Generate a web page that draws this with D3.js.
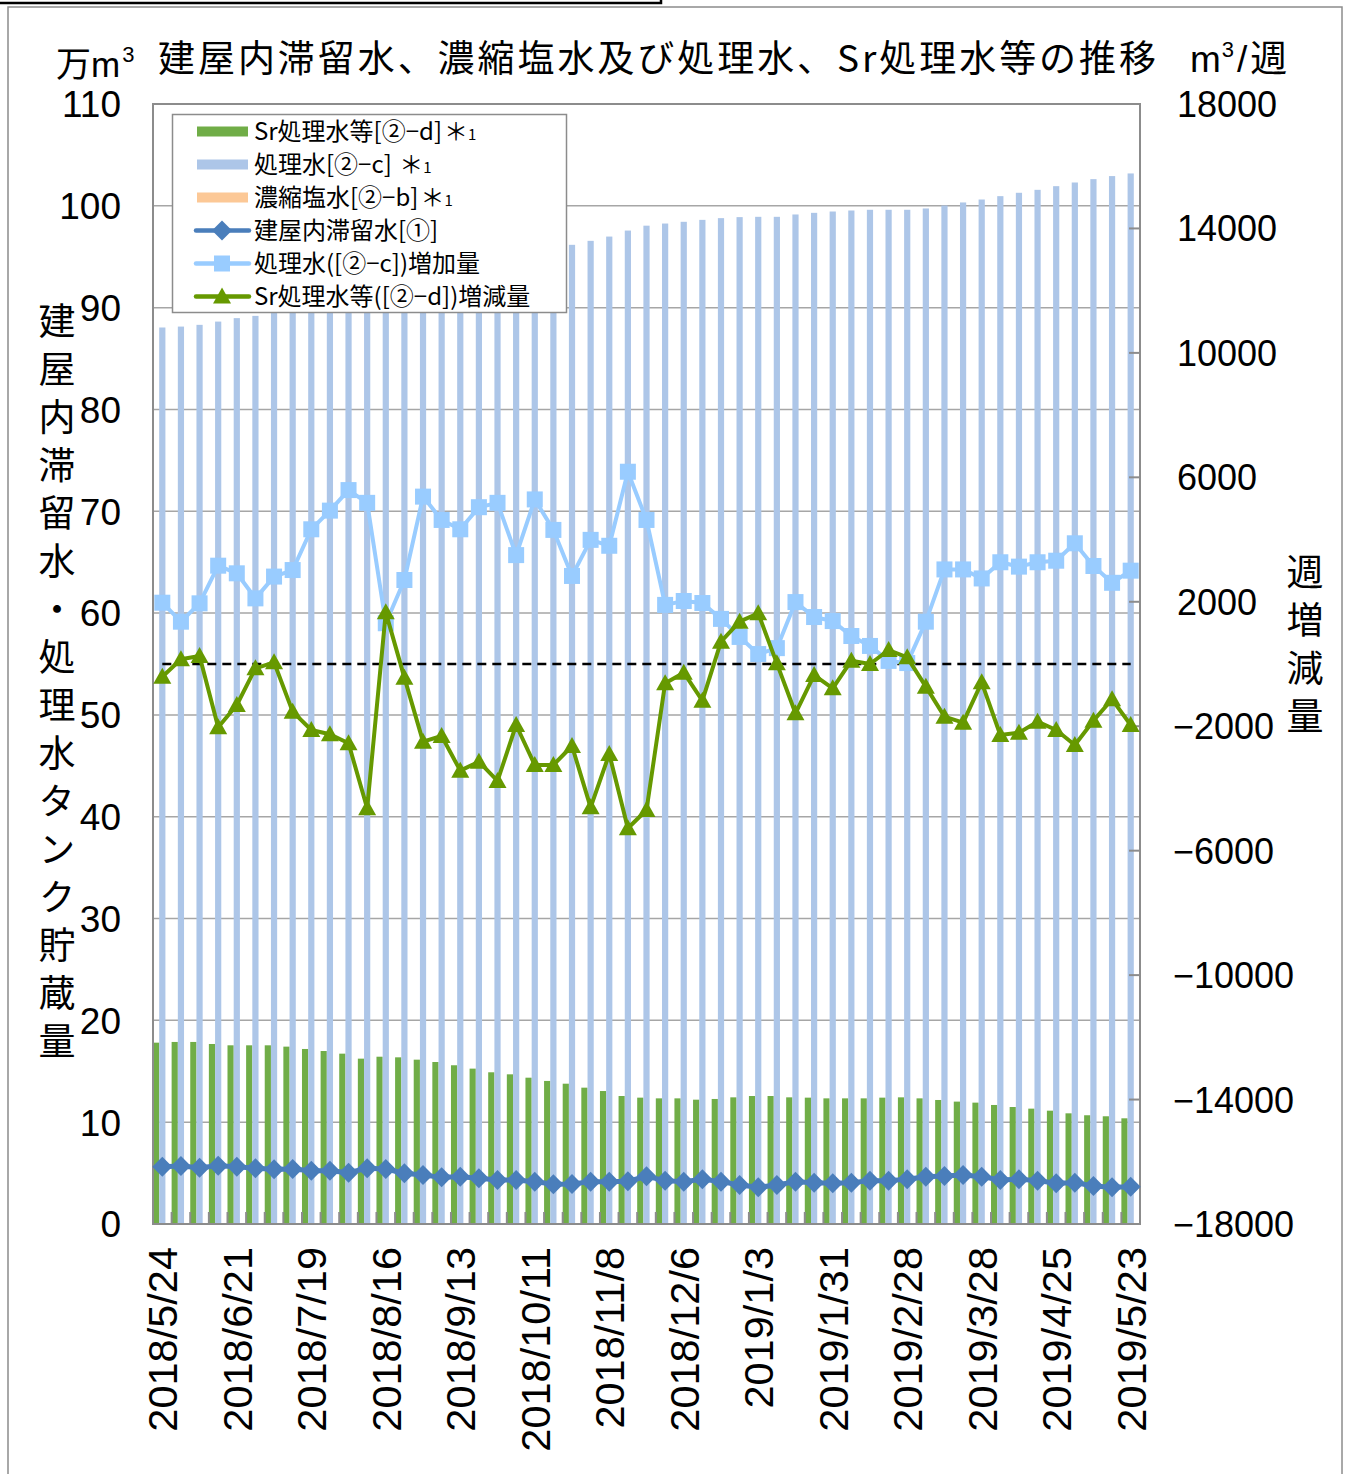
<!DOCTYPE html>
<html>
<head>
<meta charset="utf-8">
<script src="https://cdn.jsdelivr.net/npm/d3@7"></script>
<style>
    body { margin: 0; background: #fff; }
    svg { display: block; }
    text { fill: #000; }
    .jp { font-family: "Noto Sans CJK JP", sans-serif; }
    .num { font-family: "Liberation Sans", Arial, sans-serif; }
</style>
</head>
<body>
<svg id="chart" width="1351" height="1474"></svg>
<script>
// data

let dates = [
    '2018/5/24', '2018/5/31', '2018/6/7', '2018/6/14', '2018/6/21', '2018/6/28',
    '2018/7/5', '2018/7/12', '2018/7/19', '2018/7/26', '2018/8/2', '2018/8/9',
    '2018/8/16', '2018/8/23', '2018/8/30', '2018/9/6', '2018/9/13', '2018/9/20',
    '2018/9/27', '2018/10/4', '2018/10/11', '2018/10/18', '2018/10/25', '2018/11/1',
    '2018/11/8', '2018/11/15', '2018/11/22', '2018/11/29', '2018/12/6', '2018/12/13',
    '2018/12/20', '2018/12/27', '2019/1/3', '2019/1/10', '2019/1/17', '2019/1/24',
    '2019/1/31', '2019/2/7', '2019/2/14', '2019/2/21', '2019/2/28', '2019/3/7',
    '2019/3/14', '2019/3/21', '2019/3/28', '2019/4/4', '2019/4/11', '2019/4/18',
    '2019/4/25', '2019/5/2', '2019/5/9', '2019/5/16', '2019/5/23',
];

let dateLabels = [
    '2018/5/24', '2018/6/21', '2018/7/19', '2018/8/16', '2018/9/13', '2018/10/11',
    '2018/11/8', '2018/12/6', '2019/1/3', '2019/1/31', '2019/2/28', '2019/3/28',
    '2019/4/25', '2019/5/23',
];

// 万m3, left axis
let srWater = [
    17.81, 17.88, 17.88, 17.68, 17.55, 17.55, 17.55, 17.42, 17.19, 16.99, 16.73, 16.24,
    16.43, 16.37, 16.14, 15.91, 15.59, 15.26, 14.90, 14.70, 14.37, 14.05, 13.78, 13.39,
    13.06, 12.57, 12.41, 12.34, 12.34, 12.21, 12.28, 12.44, 12.57, 12.57, 12.44, 12.41,
    12.34, 12.34, 12.34, 12.41, 12.44, 12.34, 12.18, 12.02, 11.92, 11.69, 11.49, 11.33,
    11.13, 10.87, 10.68, 10.58, 10.38,
];

let treatedWater = [
    88.05, 88.14, 88.31, 88.63, 88.97, 89.19, 89.47, 89.77, 90.21, 90.70, 91.26, 91.78,
    91.91, 92.18, 92.71, 93.18, 93.61, 94.11, 94.63, 94.98, 95.51, 95.94, 96.17, 96.56,
    96.98, 97.57, 98.05, 98.26, 98.43, 98.62, 98.79, 98.89, 98.92, 98.92, 99.15, 99.31,
    99.44, 99.54, 99.61, 99.61, 99.61, 99.74, 100.03, 100.33, 100.62, 100.95, 101.28, 101.57,
    101.93, 102.29, 102.62, 102.92, 103.18,
];

let concWater = [
    0, 0, 0, 0, 0, 0, 0, 0, 0, 0, 0, 0, 0, 0, 0, 0, 0, 0, 0, 0, 0, 0, 0, 0, 0, 0, 0,
    0, 0, 0, 0, 0, 0, 0, 0, 0, 0, 0, 0, 0, 0, 0, 0, 0, 0, 0, 0, 0, 0, 0, 0, 0, 0,
];

let buildingWater = [
    5.63, 5.70, 5.53, 5.73, 5.63, 5.47, 5.37, 5.40, 5.24, 5.24, 5.04, 5.47,
    5.40, 4.98, 4.81, 4.58, 4.65, 4.49, 4.32, 4.32, 4.16, 3.90, 3.93, 4.16,
    4.16, 4.20, 4.68, 4.26, 4.16, 4.39, 4.16, 3.83, 3.60, 3.83, 4.16, 4.06,
    4.00, 4.06, 4.26, 4.26, 4.39, 4.65, 4.71, 4.81, 4.65, 4.32, 4.39, 4.26,
    4.00, 4.06, 3.73, 3.60, 3.66,
];

// m3/week, right axis
let treatedDelta = [
    1970, 1360, 1950, 3160, 2915, 2110, 2810, 3020, 4330, 4930, 5590, 5180,
    1310, 2700, 5380, 4630, 4330, 5040, 5180, 3500, 5290, 4310, 2830, 3990,
    3800, 6180, 4630, 1900, 2025, 1960, 1450, 870, 320, 510, 1990, 1510,
    1380, 900, 580, 100, 30, 1360, 3040, 3040, 2750, 3270, 3130, 3270,
    3320, 3880, 3150, 2610, 3000,
];

let srDelta = [
    -407, 150, 257, -2035, -1318, -139, 54, -1532, -2121, -2260, -2549, -4638,
    1660, -439, -2496, -2314, -3428, -3140, -3760, -1960, -3246, -3246, -2635, -4606,
    -2893, -5281, -4692, -621, -279, -1179, 717, 1360, 1630, 21, -1585, -354,
    -782, 107, 0, 450, 214, -729, -1693, -1886, -589, -2282, -2207, -1853,
    -2121, -2603, -1822, -1135, -1960,
];

let leftTicks = [0, 10, 20, 30, 40, 50, 60, 70, 80, 90, 100, 110];
let rightTicks = [-18000, -14000, -10000, -6000, -2000, 2000, 6000, 10000, 14000, 18000];

let legendItems = [
    { name: 'Sr処理水等[②−d]', note: '＊', type: 'bar', color: '#70ad47' },
    { name: '処理水[②−c] ', note: '＊', type: 'bar', color: '#adc6e8' },
    { name: '濃縮塩水[②−b]', note: '＊', type: 'bar', color: '#fcc896' },
    { name: '建屋内滞留水[①]', type: 'diamond', color: '#4a7ebb' },
    { name: '処理水([②−c])増加量', type: 'square', color: '#99ccff' },
    { name: 'Sr処理水等([②−d])増減量', type: 'triangle', color: '#669900' },
];

// layout

let plot = { left: 153, right: 1140, top: 104, bottom: 1224 };

let svg = d3.select('#chart');

let x = d3.scaleBand()
    .domain(dates)
    .range([plot.left, plot.right]);

let xSub = d3.scaleBand()
    .domain(['sr', 'treated', 'conc'])
    .range([0, x.bandwidth()]);

let yLeft = d3.scaleLinear()
    .domain([0, 110])
    .range([plot.bottom, plot.top]);

let yRight = d3.scaleLinear()
    .domain([-18000, 18000])
    .range([plot.bottom, plot.top]);

let cx = (d) => x(d) + x.bandwidth() / 2;

// frame

svg.append('rect')
    .attr('x', 8)
    .attr('y', 7)
    .attr('width', 1334)
    .attr('height', 1490)
    .attr('fill', 'none')
    .attr('stroke', '#8c8c8c')
    .attr('stroke-width', 1.5);

svg.append('path')
    .attr('d', 'M0,3H661V0')
    .attr('fill', 'none')
    .attr('stroke', '#000')
    .attr('stroke-width', 2.5);

// gridlines

svg.append('g')
    .selectAll('line')
    .data(leftTicks)
    .enter()
    .append('line')
    .attr('x1', plot.left)
    .attr('x2', plot.right)
    .attr('y1', (d) => yLeft(d))
    .attr('y2', (d) => yLeft(d))
    .attr('stroke', '#a6a6a6')
    .attr('stroke-width', 1.5);

// bars

let barSeries = [
    { key: 'sr', values: srWater, color: '#70ad47' },
    { key: 'treated', values: treatedWater, color: '#adc6e8' },
    { key: 'conc', values: concWater, color: '#fcc896' },
];

barSeries.forEach((s) => {
    svg.append('g')
        .selectAll('rect')
        .data(dates)
        .enter()
        .append('rect')
        .attr('x', (d) => x(d) + xSub(s.key))
        .attr('width', xSub.bandwidth())
        .attr('y', (d, i) => yLeft(s.values[i]))
        .attr('height', (d, i) => yLeft(0) - yLeft(s.values[i]))
        .attr('fill', s.color);
});

// axes frame + ticks

svg.append('rect')
    .attr('x', plot.left)
    .attr('y', plot.top)
    .attr('width', plot.right - plot.left)
    .attr('height', plot.bottom - plot.top)
    .attr('fill', 'none')
    .attr('stroke', '#8c8c8c')
    .attr('stroke-width', 2);

svg.append('g')
    .selectAll('line')
    .data(dates.concat(['end']))
    .enter()
    .append('line')
    .attr('x1', (d, i) => i < dates.length ? x(d) : plot.right)
    .attr('x2', (d, i) => i < dates.length ? x(d) : plot.right)
    .attr('y1', plot.bottom - 12)
    .attr('y2', plot.bottom)
    .attr('stroke', '#8c8c8c')
    .attr('stroke-width', 2);

svg.append('g')
    .selectAll('line')
    .data(rightTicks)
    .enter()
    .append('line')
    .attr('x1', plot.right - 11)
    .attr('x2', plot.right)
    .attr('y1', (d) => yRight(d))
    .attr('y2', (d) => yRight(d))
    .attr('stroke', '#8c8c8c')
    .attr('stroke-width', 2);

// zero line

svg.append('line')
    .attr('x1', cx(dates[0]))
    .attr('x2', cx(dates[dates.length - 1]))
    .attr('y1', yRight(0))
    .attr('y2', yRight(0))
    .attr('stroke', '#000')
    .attr('stroke-width', 2.5)
    .attr('stroke-dasharray', '9,6');

// line series

let symbols = {
    diamond: (g, color) => g.append('path')
        .attr('d', 'M0,-10L10,0L0,10L-10,0Z')
        .attr('fill', color),
    square: (g, color) => g.append('rect')
        .attr('x', -8).attr('y', -8)
        .attr('width', 16).attr('height', 16)
        .attr('fill', color),
    triangle: (g, color) => g.append('path')
        .attr('d', 'M0,-9L9,7L-9,7Z')
        .attr('fill', color),
};

let lineSeries = [
    { values: buildingWater, y: yLeft, type: 'diamond', color: '#4a7ebb', width: 5 },
    { values: treatedDelta, y: yRight, type: 'square', color: '#99ccff', width: 4 },
    { values: srDelta, y: yRight, type: 'triangle', color: '#669900', width: 4 },
];

lineSeries.forEach((s) => {
    let line = d3.line()
        .x((d, i) => cx(dates[i]))
        .y((d) => s.y(d));

    svg.append('path')
        .datum(s.values)
        .attr('d', line)
        .attr('fill', 'none')
        .attr('stroke', s.color)
        .attr('stroke-width', s.width)
        .attr('stroke-linejoin', 'round');

    svg.append('g')
        .selectAll('g')
        .data(s.values)
        .enter()
        .append('g')
        .attr('transform', (d, i) => `translate(${cx(dates[i])},${s.y(d)})`)
        .each(function() {
            symbols[s.type](d3.select(this), s.color);
        });
});

// axis labels

svg.append('g')
    .selectAll('text')
    .data(leftTicks)
    .enter()
    .append('text')
    .classed('num', 1)
    .attr('x', 121)
    .attr('y', (d) => yLeft(d))
    .attr('dy', '0.36em')
    .attr('text-anchor', 'end')
    .style('font-size', '37px')
    .text((d) => d);

svg.append('g')
    .selectAll('text')
    .data(rightTicks)
    .enter()
    .append('text')
    .classed('num', 1)
    .attr('x', (d) => d < 0 ? 1173 : 1177)
    .attr('y', (d) => yRight(d))
    .attr('dy', '0.36em')
    .style('font-size', '36px')
    .text((d) => d < 0 ? '−' + Math.abs(d) : d);

svg.append('g')
    .selectAll('text')
    .data(dateLabels)
    .enter()
    .append('text')
    .classed('num', 1)
    .attr('transform', (d) => `translate(${cx(d)},1247) rotate(-90)`)
    .attr('dy', '0.36em')
    .attr('text-anchor', 'end')
    .style('font-size', '41.5px')
    .text((d) => d);

// titles

svg.append('text')
    .classed('jp', 1)
    .attr('x', 158)
    .attr('y', 72)
    .attr('textLength', 998)
    .attr('lengthAdjust', 'spacing')
    .style('font-size', '37px')
    .text('建屋内滞留水、濃縮塩水及び処理水、Sr処理水等の推移');

let unitLeft = svg.append('text')
    .classed('jp', 1)
    .attr('x', 56)
    .attr('y', 77)
    .style('font-size', '35px');
unitLeft.append('tspan').text('万');
unitLeft.append('tspan').classed('num', 1).text('m');
unitLeft.append('tspan').classed('num', 1)
    .attr('dx', 2).attr('dy', -15).style('font-size', '22px').text('3');

let unitRight = svg.append('text')
    .classed('num', 1)
    .attr('x', 1190)
    .attr('y', 72)
    .style('font-size', '37px');
unitRight.append('tspan').text('m');
unitRight.append('tspan').attr('dx', 1).attr('dy', -15).style('font-size', '22px').text('3');
unitRight.append('tspan').attr('dx', 3).attr('dy', 15).text('/');
unitRight.append('tspan').classed('jp', 1).attr('dx', 3).text('週');

svg.append('text')
    .classed('jp', 1)
    .attr('x', 57)
    .attr('y', 302)
    .style('writing-mode', 'vertical-rl')
    .style('letter-spacing', '11px')
    .style('font-size', '37px')
    .text('建屋内滞留水・処理水タンク貯蔵量');

svg.append('text')
    .classed('jp', 1)
    .attr('x', 1305)
    .attr('y', 553)
    .style('writing-mode', 'vertical-rl')
    .style('letter-spacing', '11px')
    .style('font-size', '37px')
    .text('週増減量');

// legend

let legend = svg.append('g');

legend.append('rect')
    .attr('x', 172.5)
    .attr('y', 114.5)
    .attr('width', 394)
    .attr('height', 198)
    .attr('fill', '#fff')
    .attr('stroke', '#8c8c8c')
    .attr('stroke-width', 1.5);

let legendRow = legend.selectAll('.item')
    .data(legendItems)
    .enter()
    .append('g')
    .classed('item', 1)
    .attr('transform', (d, i) => `translate(0,${131.5 + i * 33})`);

legendRow.each(function(d) {
    let row = d3.select(this);
    if (d.type == 'bar') {
        row.append('rect')
            .attr('x', 197)
            .attr('y', -5)
            .attr('width', 51)
            .attr('height', 10)
            .attr('fill', d.color);
    }
    else {
        row.append('line')
            .attr('x1', 196)
            .attr('x2', 249)
            .attr('stroke', d.color)
            .attr('stroke-width', 4.5)
            .attr('stroke-linecap', 'round');
        let g = row.append('g').attr('transform', 'translate(222,0)');
        symbols[d.type](g, d.color);
    }
    let label = row.append('text')
        .classed('jp', 1)
        .attr('x', 254)
        .attr('dy', '0.36em')
        .style('font-size', '24px')
        .text(d.name);
    if (d.note) {
        label.append('tspan').attr('dx', 2).text(d.note);
        label.append('tspan').style('font-size', '15px').text('1');
    }
});
</script>
</body>
</html>
